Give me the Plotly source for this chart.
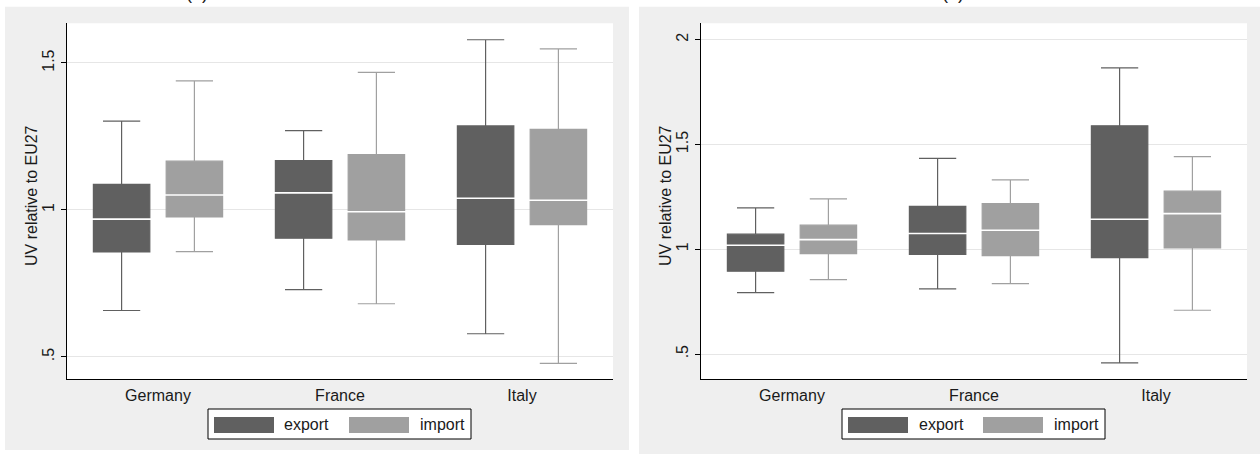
import plotly.graph_objects as go

W, H = 1260, 454

categories = ["Germany", "France", "Italy"]
series = ["export", "import"]

# Panel (a): [Germany, France, Italy]
a_export_low = [0.658, 0.729, 0.579]
a_export_q1 = [0.857, 0.904, 0.883]
a_export_med = [0.969, 1.058, 1.040]
a_export_q3 = [1.087, 1.168, 1.286]
a_export_high = [1.302, 1.270, 1.579]

a_import_low = [0.858, 0.681, 0.478]
a_import_q1 = [0.976, 0.898, 0.950]
a_import_med = [1.051, 0.994, 1.033]
a_import_q3 = [1.166, 1.188, 1.274]
a_import_high = [1.439, 1.468, 1.548]

# Panel (b)
b_export_low = [0.793, 0.811, 0.458]
b_export_q1 = [0.895, 0.976, 0.960]
b_export_med = [1.019, 1.075, 1.143]
b_export_q3 = [1.072, 1.205, 1.589]
b_export_high = [1.197, 1.434, 1.865]

b_import_low = [0.855, 0.836, 0.709]
b_import_q1 = [0.979, 0.970, 1.006]
b_import_med = [1.046, 1.091, 1.170]
b_import_q3 = [1.115, 1.218, 1.277]
b_import_high = [1.240, 1.331, 1.442]

a_ticks = [0.5, 1, 1.5]
a_ticktext = [".5", "1", "1.5"]
b_ticks = [0.5, 1, 1.5, 2]
b_ticktext = [".5", "1", "1.5", "2"]

COLORS = {"export": "#606060", "import": "#a0a0a0"}
OFFS = {"export": -0.2, "import": 0.2}
BOXW = 0.31
FONT = "Liberation Sans, Arial, sans-serif"
TXT = "#1a1a1a"


def px(x):
    return x / W


def py(y):
    return 1 - y / H


fig = go.Figure()

panels = [
    ("x", "y", {
        "export": (a_export_low, a_export_q1, a_export_med, a_export_q3, a_export_high),
        "import": (a_import_low, a_import_q1, a_import_med, a_import_q3, a_import_high),
    }),
    ("x2", "y2", {
        "export": (b_export_low, b_export_q1, b_export_med, b_export_q3, b_export_high),
        "import": (b_import_low, b_import_q1, b_import_med, b_import_q3, b_import_high),
    }),
]

for xa, ya, data in panels:
    for s in series:
        low, q1, med, q3, high = data[s]
        xs = [i + 1 + OFFS[s] for i in range(len(categories))]
        fig.add_trace(go.Box(
            x=xs, q1=q1, median=med, q3=q3, lowerfence=low, upperfence=high,
            width=BOXW, whiskerwidth=0.66, fillcolor=COLORS[s],
            line=dict(color=COLORS[s], width=1.2), boxpoints=False,
            xaxis=xa, yaxis=ya, showlegend=False, hoverinfo="skip", name=s,
        ))
        fig.add_trace(go.Scatter(
            x=xs, y=med, mode="markers",
            marker=dict(symbol="line-ew", size=55, line=dict(color="white", width=1.6)),
            xaxis=xa, yaxis=ya, showlegend=False, hoverinfo="skip",
        ))

xcommon = dict(
    range=[0.5, 3.5], tickvals=[1, 2, 3], ticktext=categories,
    showgrid=False, zeroline=False, showline=True, linecolor="black", linewidth=1.2,
    ticks="", tickfont=dict(size=16, color=TXT, family=FONT), fixedrange=True,
    automargin=False, ticklabelstandoff=2,
)
ycommon = dict(
    showgrid=True, gridcolor="#e6e6e6", gridwidth=1, zeroline=False,
    showline=True, linecolor="black", linewidth=1.2,
    ticks="outside", ticklen=5, tickcolor="black", tickwidth=1,
    tickangle=-90, tickfont=dict(size=16, color=TXT, family=FONT),
    automargin=False, fixedrange=True,
)

ydom = [py(379), py(23.3)]
fig.update_layout(
    width=W, height=H, margin=dict(l=0, r=0, t=0, b=0, autoexpand=False),
    paper_bgcolor="white", plot_bgcolor="white",
    font=dict(family=FONT, size=16, color=TXT),
    xaxis=dict(domain=[px(67), px(613)], anchor="y", **xcommon),
    xaxis2=dict(domain=[px(701), px(1247)], anchor="y2", **xcommon),
    yaxis=dict(domain=ydom, anchor="x", range=[0.425, 1.635],
               tickvals=a_ticks, ticktext=a_ticktext, **ycommon),
    yaxis2=dict(domain=ydom, anchor="x2", range=[0.381, 2.078],
                tickvals=b_ticks, ticktext=b_ticktext, **ycommon),
)

shapes = [
    dict(type="rect", xref="paper", yref="paper", x0=px(5), x1=px(629), y0=py(450), y1=py(6.7),
         fillcolor="#efefef", line=dict(width=0), layer="below"),
    dict(type="rect", xref="paper", yref="paper", x0=px(639), x1=px(1260), y0=py(454), y1=py(6.7),
         fillcolor="#efefef", line=dict(width=0), layer="below"),
    # white plot areas
    dict(type="rect", xref="x domain", yref="y domain", x0=0, x1=1, y0=0, y1=1,
         fillcolor="white", line=dict(width=0), layer="below"),
    dict(type="rect", xref="x2 domain", yref="y2 domain", x0=0, x1=1, y0=0, y1=1,
         fillcolor="white", line=dict(width=0), layer="below"),
]

annotations = []
legends = [
    # box x0, x1, swatch1 x0, text1 x, swatch2 x0, text2 x
    (208, 471, 214, 282, 349, 418),
    (842, 1105, 848, 917, 983, 1052),
]
for bx0, bx1, s1, t1, s2, t2 in legends:
    shapes.append(dict(type="rect", xref="paper", yref="paper", x0=px(bx0), x1=px(bx1),
                       y0=py(439), y1=py(409), fillcolor="white",
                       line=dict(color="black", width=1)))
    for sx, tx, s in [(s1, t1, "export"), (s2, t2, "import")]:
        shapes.append(dict(type="rect", xref="paper", yref="paper", x0=px(sx), x1=px(sx + 60),
                           y0=py(433), y1=py(417), fillcolor=COLORS[s], line=dict(width=0)))
        annotations.append(dict(x=px(tx), y=py(424.5), xref="paper", yref="paper", text=s,
                                showarrow=False, xanchor="left", yanchor="middle",
                                font=dict(size=16, color=TXT, family=FONT)))

# y-axis titles
for tx in (31, 665):
    annotations.append(dict(x=px(tx), y=py(196), xref="paper", yref="paper",
                            text="UV relative to EU27", textangle=-90, showarrow=False,
                            xanchor="center", yanchor="middle",
                            font=dict(size=16, color=TXT, family=FONT)))

# panel titles (cut off at the top edge, as in the reference)
for tx, t in ((197, "(a)"), (953, "(b)")):
    annotations.append(dict(x=px(tx), y=1, xref="paper", yref="paper", text=t,
                            showarrow=False, xanchor="center", yanchor="middle", yshift=7,
                            font=dict(size=18, color=TXT, family=FONT)))

fig.update_layout(shapes=shapes, annotations=annotations)
fig.write_html(
    "out.html",
    config={"displayModeBar": False, "staticPlot": True},
    post_script="document.body.style.margin='0';document.body.style.overflow='hidden';",
)
